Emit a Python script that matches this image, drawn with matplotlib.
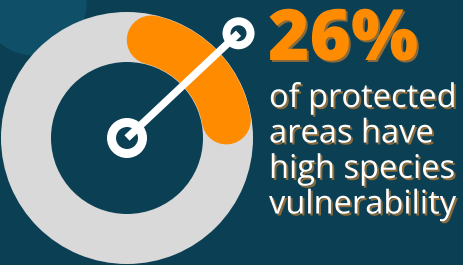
import numpy as np
import matplotlib.pyplot as plt
from matplotlib.patches import Circle, Wedge
import matplotlib.patheffects as pe

# data
percent = 26
headline = "26%"
caption_lines = ["of protected", "areas have", "high species", "vulnerability"]

# colours
bg = "#0b3f54"
bg_circle = "#0f5068"
ring_grey = "#d9d9d9"
orange = "#ff8c00"
shadow = "#8c6b3a"

W, H = 464, 265
fig = plt.figure(figsize=(W / 100, H / 100), dpi=100)
fig.patch.set_facecolor(bg)
ax = fig.add_axes([0, 0, 1, 1])
ax.set_facecolor(bg)
ax.set_xlim(0, W)
ax.set_ylim(0, H)
ax.set_aspect("equal")
ax.axis("off")

px = 72 / 100  # points per pixel

# decorative circle top-left
ax.add_patch(Circle((34, H - 3), 52.5, color=bg_circle, lw=0))

# donut ring
cx, cy = 127, H - 138
r_out, r_in = 126, 76
ax.add_patch(Wedge((cx, cy), r_out, 0, 360, width=r_out - r_in, color=ring_grey, lw=0))

# orange arc with round caps (angles clockwise from top)
r_mid = (r_out + r_in) / 2
band = 49
sweep = 360 * percent / 100
cap = np.degrees((band / 2) / r_mid)
theta = np.radians(np.linspace(cap, sweep - cap, 100))
ax.plot(cx + r_mid * np.sin(theta), cy + r_mid * np.cos(theta),
        color=orange, lw=band * px, solid_capstyle="round")

# pointer
a = np.radians(sweep / 2)
length = 153
ex, ey = cx + length * np.sin(a), cy + length * np.cos(a)
ax.plot([cx, ex], [cy, ey], color="white", lw=7.5 * px, solid_capstyle="butt")
ax.add_patch(Circle((cx, cy), 15.5, facecolor=bg, edgecolor="white", lw=9 * px))
ax.add_patch(Circle((ex, ey), 12, facecolor=bg, edgecolor="white", lw=8 * px))

# text
shadow_fx = [pe.withSimplePatchShadow(offset=(1.4, -1.4), shadow_rgbFace=shadow, alpha=1)]
ax.text(268, H - 60, headline, color=orange, fontsize=51, fontweight="heavy",
        family="Open Sans", va="baseline", ha="left", path_effects=shadow_fx)

base = 107
for i, line in enumerate(caption_lines):
    ax.text(269, H - (base + i * 35.5), line, color="white", fontsize=23.5,
            family="Open Sans", va="baseline", ha="left", path_effects=shadow_fx)

fig.savefig("out.png", dpi=100, facecolor=bg)
